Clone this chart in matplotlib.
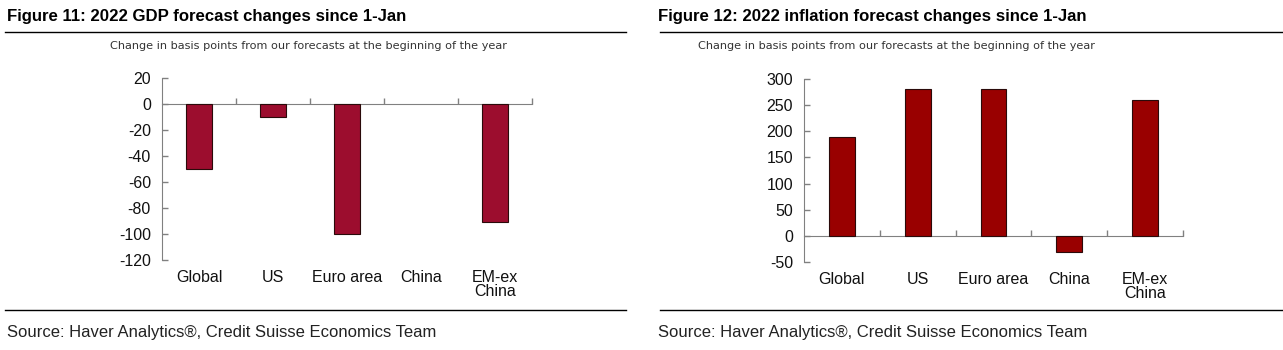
import matplotlib
matplotlib.use("Agg")
import matplotlib.pyplot as plt
from matplotlib.lines import Line2D
import numpy as np

categories = ["Global", "US", "Euro area", "China", "EM-ex\nChina"]
gdp_changes = [-50, -10, -100, 0, -91]
inflation_changes = [190, 280, 280, -30, 260]

gdp_yticks = [20, 0, -20, -40, -60, -80, -100, -120]
infl_yticks = [300, 250, 200, 150, 100, 50, 0, -50]

titles = ["Figure 11: 2022 GDP forecast changes since 1-Jan",
          "Figure 12: 2022 inflation forecast changes since 1-Jan"]
subtitle = "Change in basis points from our forecasts at the beginning of the year"
source = "Source: Haver Analytics\u00ae, Credit Suisse Economics Team"

plt.rcParams['font.family'] = ['Liberation Sans', 'DejaVu Sans']
plt.rcParams['axes.unicode_minus'] = False

W, H = 1283, 350
fig = plt.figure(figsize=(W / 100, H / 100), dpi=100)


def px_box(x0, y0, x1, y1):
    return [x0 / W, 1 - y1 / H, (x1 - x0) / W, (y1 - y0) / H]


def draw_panel(rect, values, yticks, color):
    ax = fig.add_axes(px_box(*rect))
    x = np.arange(len(categories))
    edges = ["#2a0a0a" if v != 0 else "none" for v in values]
    ax.bar(x, values, width=0.34, color=color, edgecolor=edges, linewidth=0.8, zorder=3)
    ax.set_xlim(-0.5, len(categories) - 0.5)
    ax.set_ylim(min(yticks), max(yticks))
    ax.set_yticks(yticks)
    ax.tick_params(axis="y", direction="in", length=4, color="#808080", width=1,
                   labelsize=11.5, pad=8, labelcolor="#111111")
    for s in ["top", "right"]:
        ax.spines[s].set_visible(False)
    ax.spines["left"].set_color("#808080")
    ax.spines["bottom"].set_position(("data", 0))
    ax.spines["bottom"].set_color("#808080")
    ax.set_xticks(np.arange(0.5, len(categories), 1.0))
    ax.tick_params(axis="x", direction="in", length=4, color="#808080", width=1,
                   labelbottom=False)
    sec = ax.secondary_xaxis(0)
    sec.set_xticks(x, categories)
    sec.tick_params(length=0, pad=7, labelsize=11.5, labelcolor="#111111")
    for lbl in sec.get_xticklabels():
        lbl.set_linespacing(0.9)
        lbl.set_verticalalignment("top")
    sec.spines["bottom"].set_visible(False)
    ax.patch.set_visible(False)
    return ax


draw_panel((162, 78, 532, 260), gdp_changes, gdp_yticks, "#9c0d2e")
draw_panel((804, 79, 1183, 262), inflation_changes, infl_yticks, "#990000")

# titles, subtitles, rules, sources
for i, xo in enumerate([7, 658]):
    fig.text(xo / W, 1 - 17 / H, titles[i], fontsize=12.1, fontweight="bold",
             va="center", ha="left", color="#000000")
    fig.text(((308, 896)[i]) / W, 1 - 46 / H, subtitle, fontsize=8.1,
             family=["DejaVu Sans"], va="center", ha="center", color="#333333")
    fig.text(xo / W, 1 - 333 / H, source, fontsize=12, va="center", ha="left",
             color="#222222")

for (x0, x1) in [(5, 626), (660, 1283)]:
    for yy in [32.3, 310]:
        fig.add_artist(Line2D([x0 / W, x1 / W], [1 - yy / H, 1 - yy / H],
                              color="#000000", lw=1.0, transform=fig.transFigure))

fig.savefig("out.png", dpi=100)
